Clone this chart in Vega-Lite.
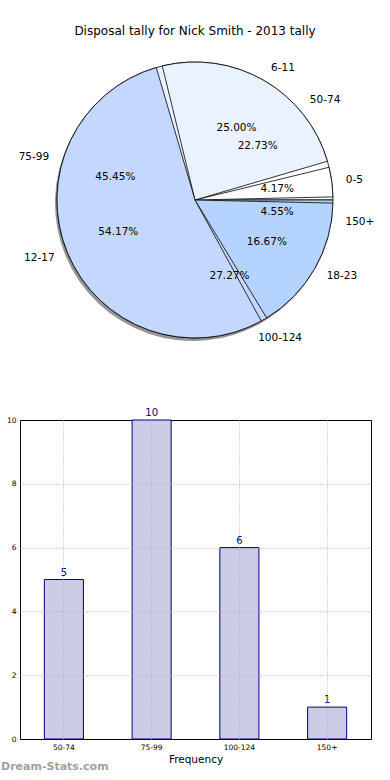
{
  "$schema": "https://vega.github.io/schema/vega-lite/v6.json",
  "padding": {"left": 0, "top": 25, "right": 0, "bottom": 0},
  "spacing": 57,
  "config": {"font": "DejaVu Sans", "view": {"stroke": null}},
  "vconcat": [
    {
      "width": 350,
      "height": 300,
      "title": {"text": "Disposal tally for Nick Smith - 2013 tally", "fontSize": 12, "fontWeight": "normal", "font": "DejaVu Sans", "color": "black", "offset": 12, "anchor": "middle"},
      "layer": [
        {
          "data": {"name": "pie1"},
          "mark": {"type": "arc", "radius": 138, "fill": "#666666", "opacity": 0.7, "xOffset": -2, "yOffset": 3},
          "encoding": {
            "theta": {"field": "pct", "type": "quantitative", "stack": true, "scale": {"range": [1.5708, 7.854]}},
            "order": {"field": "ord", "type": "quantitative"}
          }
        },
        {
          "data": {"name": "pie2"},
          "mark": {"type": "arc", "radius": 138, "stroke": "black", "strokeWidth": 0.8},
          "encoding": {
            "theta": {"field": "pct", "type": "quantitative", "stack": true},
            "order": {"field": "ord", "type": "quantitative"},
            "color": {"field": "range", "type": "nominal", "legend": null, "scale": {"domain": ["0-5", "6-11", "12-17", "18-23", "50-74", "75-99", "100-124", "150+"], "range": ["#ffffff", "#eaf2ff", "#c4d8ff", "#b4d4ff", "#ffffff", "#eaf2ff", "#c4d8ff", "#b4d4ff"]}}
          }
        },
        {
          "data": {"name": "pie1"},
          "mark": {"type": "arc", "radius": 138, "padAngle": 0.045, "stroke": "black", "strokeWidth": 0.8},
          "encoding": {
            "theta": {"field": "pct", "type": "quantitative", "stack": true},
            "order": {"field": "ord", "type": "quantitative"},
            "color": {"field": "range", "type": "nominal", "legend": null}
          }
        },
        {
          "data": {"name": "pie1"},
          "mark": {"type": "text", "radius": 152, "fontSize": 10.5, "baseline": "middle", "align": "left", "color": "black"},
          "encoding": {
            "theta": {"field": "pct", "type": "quantitative", "stack": true},
            "order": {"field": "ord", "type": "quantitative"},
            "text": {"field": "range"},
            "opacity": {"condition": {"test": "datum.range === '12-17'", "value": 0}, "value": 1}
          }
        },
        {
          "data": {"name": "pie1"},
          "mark": {"type": "text", "radius": 152, "fontSize": 10.5, "baseline": "middle", "align": "right", "color": "black"},
          "encoding": {
            "theta": {"field": "pct", "type": "quantitative", "stack": true},
            "order": {"field": "ord", "type": "quantitative"},
            "text": {"field": "range"},
            "opacity": {"condition": {"test": "datum.range === '12-17'", "value": 1}, "value": 0}
          }
        },
        {
          "data": {"name": "pie1"},
          "mark": {"type": "text", "radius": 83, "fontSize": 10.5, "baseline": "middle", "align": "center", "color": "black"},
          "encoding": {
            "theta": {"field": "pct", "type": "quantitative", "stack": true},
            "order": {"field": "ord", "type": "quantitative"},
            "text": {"field": "label"}
          }
        },
        {
          "data": {"name": "pie2"},
          "mark": {"type": "text", "radius": 152, "fontSize": 10.5, "baseline": "middle", "align": "left", "color": "black"},
          "encoding": {
            "theta": {"field": "pct", "type": "quantitative", "stack": true},
            "order": {"field": "ord", "type": "quantitative"},
            "text": {"field": "range"},
            "opacity": {"condition": {"test": "datum.range === '75-99'", "value": 0}, "value": 1}
          }
        },
        {
          "data": {"name": "pie2"},
          "mark": {"type": "text", "radius": 152, "fontSize": 10.5, "baseline": "middle", "align": "right", "color": "black"},
          "encoding": {
            "theta": {"field": "pct", "type": "quantitative", "stack": true},
            "order": {"field": "ord", "type": "quantitative"},
            "text": {"field": "range"},
            "opacity": {"condition": {"test": "datum.range === '75-99'", "value": 1}, "value": 0}
          }
        },
        {
          "data": {"name": "pie2"},
          "mark": {"type": "text", "radius": 83, "fontSize": 10.5, "baseline": "middle", "align": "center", "color": "black"},
          "encoding": {
            "theta": {"field": "pct", "type": "quantitative", "stack": true},
            "order": {"field": "ord", "type": "quantitative"},
            "text": {"field": "label"}
          }
        }
      ]
    },
    {
      "width": 351,
      "height": 319,
      "view": {"stroke": "black", "strokeWidth": 1},
      "data": {"name": "bars"},
      "title": {"text": "Dream-Stats.com", "orient": "bottom", "anchor": "start", "offset": -4, "fontSize": 11, "fontWeight": "bold", "color": "#a0a0a0", "font": "DejaVu Sans"},
      "encoding": {
        "x": {"field": "range", "type": "nominal", "sort": null, "scale": {"paddingInner": 0.555, "paddingOuter": 0.2775},
          "axis": {"title": "Frequency", "labelAngle": 0, "labelFontSize": 7.5, "labelColor": "black", "titleFontSize": 10.5, "titleFontWeight": "normal", "titleColor": "black", "grid": true, "gridDash": [1, 2], "gridColor": "#b0b0b0", "bandPosition": 0.5, "domain": false, "ticks": false, "labelPadding": 4, "titlePadding": 4, "zindex": 1}},
        "y": {"field": "count", "type": "quantitative", "scale": {"domain": [0, 10], "nice": false},
          "axis": {"title": null, "values": [0, 2, 4, 6, 8, 10], "labelFontSize": 7.5, "labelColor": "black", "grid": true, "gridDash": [1, 2], "gridColor": "#b0b0b0", "gridOpacity": {"condition": {"test": "datum.value === 0 || datum.value === 10", "value": 0}, "value": 1}, "domain": false, "ticks": false, "labelPadding": 4, "minExtent": 19, "maxExtent": 19, "zindex": 1}}
      },
      "layer": [
        {"mark": {"type": "bar", "fill": "#ccccE6", "stroke": "#000080", "strokeWidth": 1}},
        {"mark": {"type": "text", "dy": -4, "baseline": "alphabetic", "color": "#000080", "fontSize": 10}, "encoding": {"text": {"field": "count", "type": "quantitative"}}}
      ]
    }
  ],
  "datasets": {
    "pie1": [
      {"range": "0-5", "count": 1, "pct": 4.17, "label": "4.17%", "ord": 4},
      {"range": "6-11", "count": 6, "pct": 25.00, "label": "25.00%", "ord": 3},
      {"range": "12-17", "count": 13, "pct": 54.17, "label": "54.17%", "ord": 2},
      {"range": "18-23", "count": 4, "pct": 16.67, "label": "16.67%", "ord": 1}
    ],
    "pie2": [
      {"range": "50-74", "count": 5, "pct": 22.73, "label": "22.73%", "ord": 4},
      {"range": "75-99", "count": 10, "pct": 45.45, "label": "45.45%", "ord": 3},
      {"range": "100-124", "count": 6, "pct": 27.27, "label": "27.27%", "ord": 2},
      {"range": "150+", "count": 1, "pct": 4.55, "label": "4.55%", "ord": 1}
    ],
    "bars": [
      {"range": "50-74", "count": 5},
      {"range": "75-99", "count": 10},
      {"range": "100-124", "count": 6},
      {"range": "150+", "count": 1}
    ]
  }
}
